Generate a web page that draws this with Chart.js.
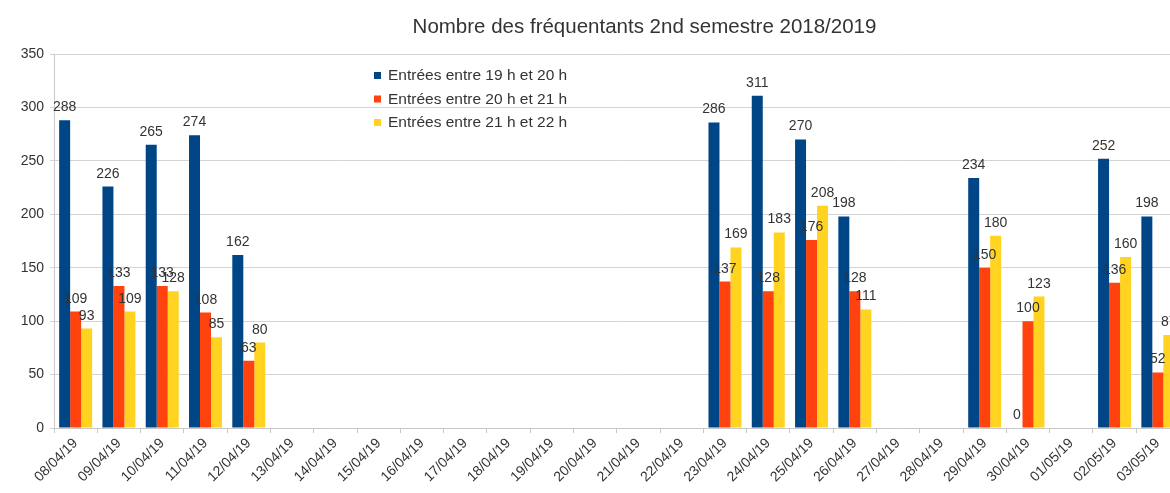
<!DOCTYPE html>
<html><head><meta charset="utf-8">
<script src="https://cdn.jsdelivr.net/npm/chart.js@4.4.0/dist/chart.umd.min.js"></script>
<style>html,body{margin:0;padding:0;overflow:hidden;background:#fff}#wrap{width:1250px;height:493px}</style>
</head><body><div id="wrap"><canvas id="c" width="1250" height="493"></canvas></div>
<script>
const categories = ["08/04/19","09/04/19","10/04/19","11/04/19","12/04/19","13/04/19","14/04/19","15/04/19","16/04/19","17/04/19","18/04/19","19/04/19","20/04/19","21/04/19","22/04/19","23/04/19","24/04/19","25/04/19","26/04/19","27/04/19","28/04/19","29/04/19","30/04/19","01/05/19","02/05/19","03/05/19"];
const seriesNames = ["Entrées entre 19 h et 20 h","Entrées entre 20 h et 21 h","Entrées entre 21 h et 22 h"];
const entrees19_20 = [288,226,265,274,162,null,null,null,null,null,null,null,null,null,null,286,311,270,198,null,null,234,0,null,252,198];
const entrees20_21 = [109,133,133,108,63,null,null,null,null,null,null,null,null,null,null,137,128,176,128,null,null,150,100,null,136,52];
const entrees21_22 = [93,109,128,85,80,null,null,null,null,null,null,null,null,null,null,169,183,208,111,null,null,180,123,null,160,87];
const yTicks = [0,50,100,150,200,250,300,350];
const colors = ["#004586","#ff420e","#ffd320"];
const titleText = "Nombre des fréquentants 2nd semestre 2018/2019";
const FONT = "'Liberation Sans', Arial, sans-serif";

const valueLabels = {
  id: 'valueLabels',
  afterDatasetsDraw(chart) {
    const ctx = chart.ctx;
    ctx.save();
    ctx.font = "14px " + FONT;
    ctx.fillStyle = "#333";
    ctx.textAlign = "center";
    ctx.textBaseline = "alphabetic";
    chart.data.datasets.forEach((ds, i) => {
      const meta = chart.getDatasetMeta(i);
      meta.data.forEach((el, j) => {
        const v = ds.data[j];
        if (v === null || v === undefined) return;
        ctx.fillText(String(v), el.x, el.y - 9);
      });
    });
    ctx.restore();
  }
};

const titleAndLegend = {
  id: 'titleAndLegend',
  afterDraw(chart) {
    const ctx = chart.ctx;
    ctx.save();
    ctx.font = "20.5px " + FONT;
    ctx.fillStyle = "#333";
    ctx.textAlign = "center";
    ctx.textBaseline = "middle";
    ctx.fillText(titleText, 644.5, 27);
    ctx.font = "15.5px " + FONT;
    ctx.textAlign = "left";
    chart.data.datasets.forEach((ds, i) => {
      const y = 75.5 + i * 23.5;
      ctx.fillStyle = ds.backgroundColor;
      ctx.fillRect(374, y - 3.5, 7, 7);
      ctx.fillStyle = "#333";
      ctx.fillText(ds.label, 388, y + 0.5);
    });
    ctx.restore();
  }
};

new Chart(document.getElementById('c'), {
  type: 'bar',
  data: {
    labels: categories,
    datasets: [
      {label: seriesNames[0], data: entrees19_20, backgroundColor: colors[0]},
      {label: seriesNames[1], data: entrees20_21, backgroundColor: colors[1]},
      {label: seriesNames[2], data: entrees21_22, backgroundColor: colors[2]}
    ]
  },
  options: {
    responsive: false,
    animation: false,
    layout: {padding: {left: 0, right: 70.5, top: 54, bottom: 0}},
    categoryPercentage: 0.762,
    barPercentage: 1.0,
    plugins: {
      legend: {display: false},
      tooltip: {enabled: false},
      title: {display: false}
    },
    scales: {
      x: {
        offset: true,
        grid: {display: true, drawOnChartArea: false, offset: true, tickLength: 5, color: "#c8c8c8"},
        border: {display: true, color: "#c8c8c8"},
        ticks: {autoSkip: false, minRotation: 45, maxRotation: 45, padding: 2, color: "#333", font: {family: FONT, size: 14}},
        afterFit(s) { s.height = 65; }
      },
      y: {
        min: 0, max: 350,
        afterBuildTicks(s) { s.ticks = yTicks.map(v => ({value: v})); },
        grid: {color: "#d4d4d4", tickLength: 4, drawTicks: true},
        border: {display: true, color: "#c8c8c8"},
        ticks: {padding: 6, color: "#333", font: {family: FONT, size: 14}},
        afterFit(s) { s.width = 54; }
      }
    }
  },
  plugins: [valueLabels, titleAndLegend]
});
</script>
</body></html>
